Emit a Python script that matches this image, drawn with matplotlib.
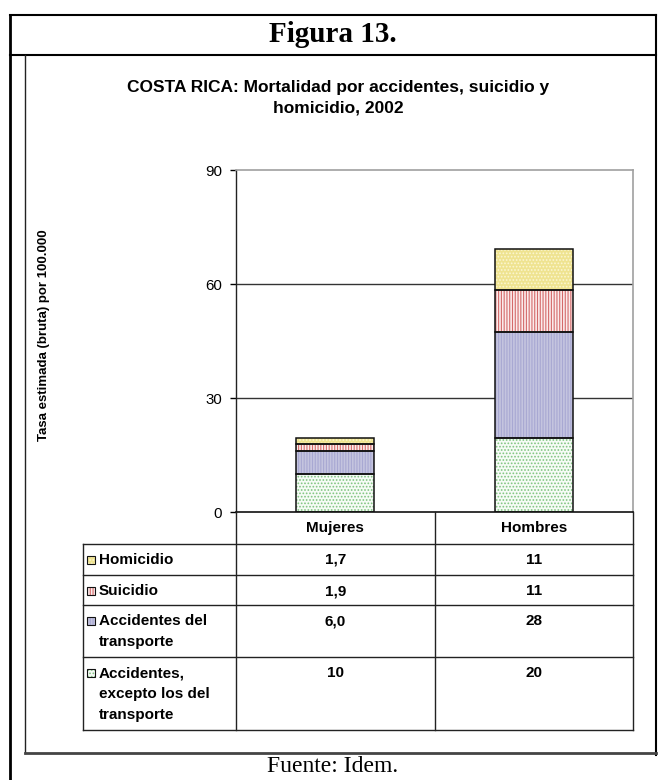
import matplotlib
matplotlib.use('Agg')
import matplotlib.pyplot as plt
from matplotlib.transforms import Affine2D, blended_transform_factory
from matplotlib.patches import Rectangle
from matplotlib.lines import Line2D

plt.rcParams['font.family'] = ['Liberation Sans', 'DejaVu Sans']
plt.rcParams['hatch.linewidth'] = 0.8

# ---------------- data ----------------
categories = ['Mujeres', 'Hombres']
series_names = ['Accidentes,\nexcepto los del\ntransporte',
                'Accidentes del\ntransporte', 'Suicidio', 'Homicidio']
accidentes_excepto = [10.0, 19.5]
accidentes_transporte = [6.0, 28.0]
suicidio = [1.9, 11.0]
homicidio = [1.7, 10.8]
yticks = [0, 30, 60, 90]
title = 'COSTA RICA: Mortalidad por accidentes, suicidio y\nhomicidio, 2002'
ylabel = 'Tasa estimada (bruta) por 100.000'

series_values = [accidentes_excepto, accidentes_transporte, suicidio, homicidio]
styles = [
    dict(face='#F6FBF6', hatch='.....', hcol='#7FC47F'),
    dict(face='#C4C4DF', hatch='||||||', hcol='#A8A8D2'),
    dict(face='#FBECEC', hatch='||||||', hcol='#D46A6A'),
    dict(face='#EFE390', hatch='.....', hcol='#FBF6D2'),
]

W, H = 660, 780
fig = plt.figure(figsize=(W / 100, H / 100), dpi=100)
fig.patch.set_facecolor('white')
PX = Affine2D().scale(1, -1).translate(0, H)   # pixel coords, y from top


def fx(x):
    return x / W


def fy(y):
    return 1 - y / H


# plot area: x 236..633, y 170..512
ax = fig.add_axes([fx(236), fy(512), (633 - 236) / W, (512 - 170) / H])
ax.set_xlim(-0.5, 1.5)
ax.set_ylim(0, 90)
xs = list(range(len(categories)))
bottom = [0.0] * len(categories)
bw = 0.395
for vals, st in zip(series_values, styles):
    ax.bar(xs, vals, width=bw, bottom=bottom, color=st['face'], hatch=st['hatch'],
           edgecolor=st['hcol'], linewidth=0, zorder=2)
    ax.bar(xs, vals, width=bw, bottom=bottom, fill=False, edgecolor='#111111',
           linewidth=1.1, zorder=3)
    bottom = [b + v for b, v in zip(bottom, vals)]

for yv in yticks[1:-1]:
    ax.axhline(yv, color='#333333', linewidth=1.0, zorder=1)
ax.set_yticks(yticks)
ax.set_yticklabels([str(t) for t in yticks], fontsize=10.8)
ax.tick_params(axis='y', direction='out', length=4, width=1, pad=6, colors='black')
ax.set_xticks([])
for s in ['top', 'right']:
    ax.spines[s].set_color('#A0A0A0')
    ax.spines[s].set_linewidth(1.2)
ax.spines['left'].set_color('#222222')
ax.spines['bottom'].set_color('#111111')
ax.spines['left'].set_linewidth(1.0)
ax.spines['bottom'].set_linewidth(1.2)

# ---------------- data table ----------------
TB = blended_transform_factory(ax.transData, PX)
col_edges = [-0.5, 0.5, 1.5]
header_top, header_bot = 512, 544
row_tops = [544, 575, 605, 657]
table_bottom = 730
label_left_px = 83

for xe in col_edges:
    fig.add_artist(Line2D([xe, xe], [header_top, table_bottom], transform=TB,
                          color='#222222', linewidth=1.0))
fig.add_artist(Line2D([label_left_px, label_left_px], [header_bot, table_bottom],
                      transform=PX, color='#222222', linewidth=1.0))
x_right_px = ax.transData.transform((1.5, 0))[0]
for yl in row_tops + [table_bottom]:
    fig.add_artist(Line2D([label_left_px, x_right_px], [yl, yl], transform=PX,
                          color='#222222', linewidth=1.0))

for i, c in enumerate(categories):
    fig.text(i, (header_top + header_bot) / 2, c, transform=TB, ha='center',
             va='center', fontsize=11, fontweight='bold')


def fmt(v):
    if v >= 9.95:
        return f'{v:.0f}'
    return f'{v:.1f}'.replace('.', ',')


table_order = [3, 2, 1, 0]  # top to bottom: Homicidio, Suicidio, Transporte, Excepto
for r, si in enumerate(table_order):
    top = row_tops[r]
    st = styles[si]
    fig.add_artist(Rectangle((87, top + 20), 8, -8, transform=PX, facecolor=st['face'],
                             hatch=st['hatch'], edgecolor=st['hcol'], linewidth=0))
    fig.add_artist(Rectangle((87, top + 20), 8, -8, transform=PX, fill=False,
                             edgecolor='#111111', linewidth=0.8))
    fig.text(99, top + 9, series_names[si], transform=PX, ha='left', va='top',
             fontsize=11, fontweight='bold', linespacing=1.62)
    for ci in range(len(categories)):
        fig.text(ci, top + 9, fmt(series_values[si][ci]), transform=TB, ha='center',
                 va='top', fontsize=11, fontweight='bold')

# ---------------- titles and frame ----------------
fig.text(338, 98, title, transform=PX, ha='center', va='center', fontsize=12.5,
         fontweight='bold', linespacing=1.45)
fig.text(44, 335, ylabel, transform=PX, ha='center', va='center', rotation=90,
         fontsize=9.5, fontweight='bold')
fig.text(333, 34, 'Figura 13.', transform=PX, ha='center', va='center',
         fontsize=21, fontweight='bold', family='Liberation Serif')
fig.text(333, 766, 'Fuente: Idem.', transform=PX, ha='center', va='center',
         fontsize=17, family='Liberation Serif')

frame_lines = [
    ([10, 10], [15, 780], 2.0, 'black'),
    ([10, 656], [15, 15], 1.5, 'black'),
    ([656, 656], [15, 755], 1.5, 'black'),
    ([10, 656], [55, 55], 1.5, 'black'),
    ([25, 25], [55, 753], 1.0, '#222222'),
    ([25, 656], [753, 753], 2.0, '#444444'),
]
for xx, yy, lw, col in frame_lines:
    fig.add_artist(Line2D(xx, yy, transform=PX, color=col, linewidth=lw))

fig.savefig('out.png', dpi=100, facecolor='white')
